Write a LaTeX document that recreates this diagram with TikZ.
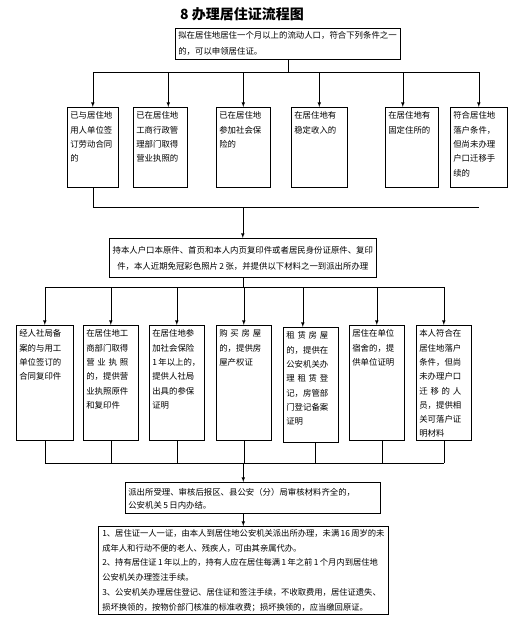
\documentclass[tikz,border=0pt]{standalone}
\usepackage{fontspec}
\setmainfont{Noto Sans CJK SC}
\newcommand{\spreadline}[1]{\makebox[\linewidth][s]{#1}}
\tikzset{
  box/.style={draw, line width=0.6pt, anchor=north west, inner sep=3pt,
    align=left, text height=8.5pt, font=\fontsize{8.4}{14.3}\selectfont},
  link/.style={line width=0.6pt},
  flow/.style={link, -latex},
}

\begin{document}
\begin{tikzpicture}[x=1pt, y=-1pt]
\useasboundingbox (0,0) rectangle (512,618);
%% ---- title and conditions ----
\node[font=\fontsize{14}{16}\selectfont\bfseries] (title) at (242,14) {8 办理居住证流程图};
\node[box, text width=219pt, text height=7pt, text depth=18pt, font=\fontsize{8.4}{16.5}\selectfont] (intro) at (175,28)
  {拟在居住地居住一个月以上的流动人口，符合下列条件之一\\的，可以申领居住证。};
\coordinate (bus1) at (0,72);
\coordinate (bus2) at (0,207);
\node[box, text width=45pt, text depth=65.5pt] (cond1) at (67,107) {已与居住地\\用人单位签\\订劳动合同\\的};
\node[box, text width=48pt, text depth=65.5pt] (cond2) at (133,107) {已在居住地\\工商行政管\\理部门取得\\营业执照的};
\node[box, text width=48pt, text depth=65.5pt] (cond3) at (216,107) {已在居住地\\参加社会保\\险的};
\node[box, text width=50pt, text depth=65.5pt] (cond4) at (291,107) {在居住地有\\稳定收入的};
\node[box, text width=47pt, text depth=65.5pt] (cond5) at (385,107) {在居住地有\\固定住所的};
\node[box, text width=51pt, text depth=65.5pt] (cond6) at (450,107) {符合居住地\\落户条件，\\但尚未办理\\户口迁移手\\续的};
\draw[link] (intro.south) -- (intro.south |- bus1);
\draw[link] (cond1.north |- bus1) -- (cond6.north |- bus1);
\foreach \n/\dx in {cond1/0, cond2/8, cond3/0, cond4/0, cond5/-9, cond6/0}
  \draw[flow] ([xshift=\dx]\n.north |- bus1) -- ([xshift=\dx]\n.north);
\foreach \n in {cond1,...,cond6}
  \draw[link] (\n.south) -- (\n.south |- bus2);
\draw[link] (cond1.south |- bus2) -- (cond6.south |- bus2);

%% ---- documents and materials ----
\node[box, text width=261pt, text height=12pt, text depth=21pt, align=center, font=\fontsize{8.4}{16}\selectfont] (docs) at (109,238)
  {持本人户口本原件、首页和本人内页复印件或者居民身份证原件、复印\\件，本人近期免冠彩色照片\,2\,张，并提供以下材料之一到派出所办理};
\draw[flow] (docs.north |- bus2) -- (docs.north);
\coordinate (bus3) at (0,287);
\coordinate (bus4) at (0,463);
\node[box, text width=51pt, text depth=100.5pt] (mat1) at (16,325) {经人社局备\\案的与用工\\单位签订的\\合同复印件};
\node[box, text width=49pt, text depth=100.5pt] (mat2) at (83,325) {在居住地工\\商部门取得\\\spreadline{营 业 执 照}\\的，提供营\\业执照原件\\和复印件};
\node[box, text width=49pt, text depth=100.5pt] (mat3) at (149,325) {在居住地参\\加社会保险\\1\,年以上的，\\提供人社局\\出具的参保\\证明};
\node[box, text width=49pt, text depth=100.5pt] (mat4) at (216,325) {\spreadline{购 买 房 屋}\\的，提供房\\屋产权证};
\node[box, text width=49pt, text depth=100.5pt] (mat5) at (283,327) {\spreadline{租 赁 房 屋}\\的，提供在\\公安机关办\\\spreadline{理 租 赁 登}\\记，房管部\\门登记备案\\证明};
\node[box, text width=49pt, text depth=100.5pt] (mat6) at (349,325) {居住在单位\\宿舍的，提\\供单位证明};
\node[box, text width=49pt, text depth=100.5pt] (mat7) at (416,325) {本人符合在\\居住地落户\\条件，但尚\\未办理户口\\\spreadline{迁 移 的 人}\\员，提供相\\关可落户证\\明材料};
\draw[link] (docs.south) -- (docs.south |- bus3);
\draw[link] (mat1.north |- bus3) -- (mat7.north |- bus3);
\foreach \n/\dx in {mat1/0, mat2/0, mat3/0, mat4/0, mat5/-8, mat6/0, mat7/0}
  \draw[flow] ([xshift=\dx]\n.north |- bus3) -- ([xshift=\dx]\n.north);
\foreach \n/\dx in {mat1/0, mat2/0, mat3/0, mat4/0, mat5/4, mat6/5, mat7/0}
  \draw[link] ([xshift=\dx]\n.south) -- ([xshift=\dx]\n.south |- bus4);
\draw[link] (mat1.south |- bus4) -- (mat7.south |- bus4);

%% ---- handling and notes ----
\node[box, text width=249pt, text height=10pt, text depth=15pt, font=\fontsize{8.4}{13.5}\selectfont] (accept) at (125,482)
  {派出所受理、审核后报区、县公安（分）局审核材料齐全的，\\公安机关\,5\,日内办结。};
\node[box, inner xsep=4pt, text width=282pt, text height=7pt, text depth=75pt, font=\fontsize{8.3}{14.8}\selectfont] (notes) at (98,526)
  {1、居住证一人一证，由本人到居住地公安机关派出所办理，未满\,16\,周岁的未\\成年人和行动不便的老人、残疾人，可由其亲属代办。\\2、持有居住证\,1\,年以上的，持有人应在居住每满\,1\,年之前\,1\,个月内到居住地\\公安机关办理签注手续。\\3、公安机关办理居住登记、居住证和签注手续，不收取费用，居住证遗失、\\损坏换领的，按物价部门核准的标准收费；损坏换领的，应当缴回原证。};
\draw[flow] (notes.north |- bus4) -- (notes.north |- accept.north);
\draw[flow] (notes.north |- accept.south) -- (notes.north);
\end{tikzpicture}
\end{document}
